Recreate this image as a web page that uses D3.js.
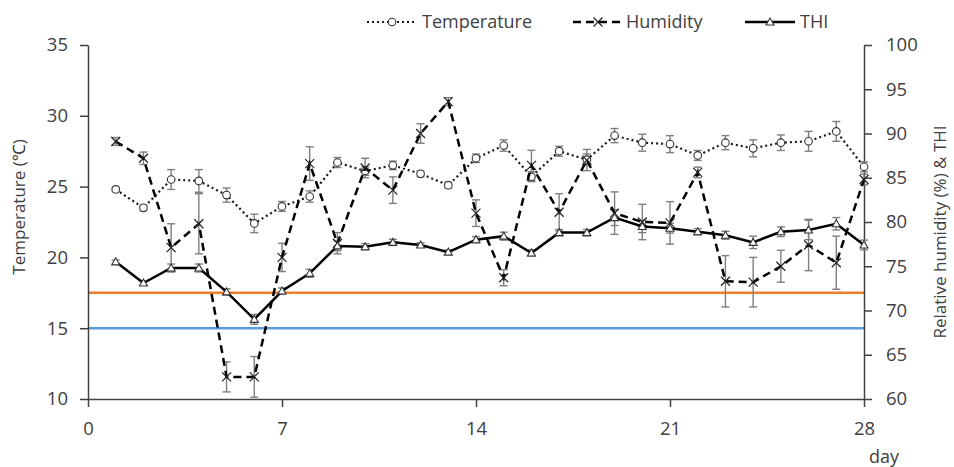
<!DOCTYPE html>
<html>
<head>
<meta charset="utf-8">
<script src="https://cdn.jsdelivr.net/npm/d3@7"></script>
<style>
  body { margin: 0; background: #fff; }
  text { font-family: "Open Sans", "Noto Sans", sans-serif; fill: #404040; }
</style>
</head>
<body>
<div id="chart"></div>
<script>
const days = d3.range(1, 29);
const temperature = [24.8, 23.5, 25.5, 25.4, 24.4, 22.4, 23.6, 24.3, 26.7, 26.1, 26.5, 25.9, 25.1, 27.0, 27.9, 25.7, 27.5, 26.9, 28.6, 28.1, 28.0, 27.2, 28.1, 27.7, 28.1, 28.2, 28.9, 26.4];
const temperatureErr = [0.15, 0.2, 0.7, 0.8, 0.5, 0.65, 0.35, 0.4, 0.35, 0.3, 0.3, 0.2, 0.2, 0.3, 0.4, 0.35, 0.35, 0.4, 0.5, 0.6, 0.6, 0.35, 0.5, 0.6, 0.55, 0.7, 0.7, 0.35];
const humidity = [89.1, 87.2, 77.1, 79.8, 62.5, 62.5, 76.0, 86.6, 77.6, 86.1, 83.6, 90.0, 93.6, 81.0, 73.7, 86.4, 81.1, 87.0, 81.0, 80.0, 79.9, 85.6, 73.3, 73.2, 75.0, 77.4, 75.4, 84.8];
const humidityErr = [0.45, 0.7, 2.7, 3.4, 1.7, 2.3, 1.6, 1.9, 1.2, 1.1, 1.5, 1.1, 0.45, 1.5, 0.9, 1.7, 2.1, 1.2, 2.4, 2.0, 2.4, 0.6, 2.9, 2.8, 1.8, 2.9, 3.0, 0.6];
const thi = [75.5, 73.1, 74.8, 74.8, 72.1, 69.0, 72.2, 74.2, 77.3, 77.2, 77.7, 77.4, 76.6, 78.0, 78.4, 76.5, 78.8, 78.8, 80.5, 79.5, 79.3, 78.9, 78.5, 77.7, 78.9, 79.1, 79.8, 77.4];
const thiErr = [0.2, 0.2, 0.45, 0.45, 0.35, 0.55, 0.35, 0.45, 0.55, 0.35, 0.35, 0.25, 0.25, 0.35, 0.45, 0.35, 0.35, 0.35, 0.9, 0.7, 0.55, 0.35, 0.45, 0.7, 0.55, 1.1, 0.7, 0.55];
const xTicks = [0, 7, 14, 21, 28];
const leftTicks = [10, 15, 20, 25, 30, 35];
const rightTicks = [60, 65, 70, 75, 80, 85, 90, 95, 100];
const thresholdLines = [{value: 17.5, color: "#ED7D31"}, {value: 15, color: "#5B9BD5"}];

const W = 954, H = 467;
const margin = {top: 45, right: 90, bottom: 68, left: 88};
const width = W - margin.left - margin.right,
      height = H - margin.top - margin.bottom;

const svg = d3.select("#chart").append("svg")
    .attr("width", W).attr("height", H);
const g = svg.append("g").attr("transform", `translate(${margin.left},${margin.top})`);

const x = d3.scaleLinear().domain([0, 28]).range([0, width]);
const yL = d3.scaleLinear().domain([10, 35]).range([height, 0]);
const yR = d3.scaleLinear().domain([60, 100]).range([height, 0]);

// threshold lines
g.selectAll(".thr").data(thresholdLines).enter().append("line")
    .attr("x1", 0).attr("x2", width)
    .attr("y1", d => yL(d.value)).attr("y2", d => yL(d.value))
    .attr("stroke", d => d.color).attr("stroke-width", 2.5);

// axes
function styleAxis(sel) {
    sel.select(".domain").attr("stroke", "#404040").attr("stroke-width", 1.5);
    sel.selectAll(".tick line").attr("stroke", "#404040").attr("stroke-width", 1.5);
    sel.selectAll(".tick text").style("font-size", "18.5px").attr("fill", "#404040");
}
g.append("g").attr("transform", `translate(0,${height})`)
    .call(d3.axisBottom(x).tickValues(xTicks).tickSize(8).tickSizeOuter(0).tickPadding(15))
    .call(styleAxis);
g.append("g")
    .call(d3.axisLeft(yL).tickValues(leftTicks).tickSize(8).tickSizeOuter(0).tickPadding(12))
    .call(styleAxis);
g.append("g").attr("transform", `translate(${width},0)`)
    .call(d3.axisRight(yR).tickValues(rightTicks).tickSize(8).tickSizeOuter(0).tickPadding(14))
    .call(styleAxis);

svg.append("text").attr("transform", "translate(25,207) rotate(-90)")
    .attr("text-anchor", "middle").style("font-size", "17px").text("Temperature (℃)");
svg.append("text").attr("transform", "translate(946,232) rotate(-90)")
    .attr("text-anchor", "middle").style("font-size", "17px").text("Relative humidity (%) & THI");
svg.append("text").attr("x", 884).attr("y", 463).attr("text-anchor", "middle")
    .style("font-size", "18px").text("day");

const series = [
    {name: "Temperature", values: temperature, err: temperatureErr, y: yL, dash: "2,3", color: "#1a1a1a", width: 2.2, marker: "circle"},
    {name: "Humidity", values: humidity, err: humidityErr, y: yR, dash: "8,5", color: "#000", width: 2.5, marker: "cross"},
    {name: "THI", values: thi, err: thiErr, y: yR, dash: null, color: "#000", width: 2.5, marker: "triangle"}
];

function drawMarker(sel, type) {
    if (type === "circle") {
        sel.append("circle").attr("r", 3.8).attr("fill", "#fff").attr("stroke", "#333").attr("stroke-width", 1.1);
    } else if (type === "cross") {
        sel.append("path").attr("d", "M-4.5,-4.5L4.5,4.5M-4.5,4.5L4.5,-4.5").attr("stroke", "#222").attr("stroke-width", 1.2).attr("fill", "none");
    } else {
        sel.append("path").attr("d", "M0,-4L4,3L-4,3Z").attr("fill", "#fff").attr("stroke", "#333").attr("stroke-width", 1.1);
    }
}

// error bars
series.forEach(s => {
    const eg = g.append("g").attr("stroke", "#7f7f7f").attr("stroke-width", 1.4);
    days.forEach((d, i) => {
        const cx = x(d), y1 = s.y(s.values[i] + s.err[i]), y2 = s.y(s.values[i] - s.err[i]);
        eg.append("line").attr("x1", cx).attr("x2", cx).attr("y1", y1).attr("y2", y2);
        eg.append("line").attr("x1", cx - 4).attr("x2", cx + 4).attr("y1", y1).attr("y2", y1);
        eg.append("line").attr("x1", cx - 4).attr("x2", cx + 4).attr("y1", y2).attr("y2", y2);
    });
});

// lines and markers
series.forEach(s => {
    const line = d3.line().x((d, i) => x(days[i])).y(d => s.y(d));
    g.append("path").datum(s.values)
        .attr("d", line).attr("fill", "none")
        .attr("stroke", s.color).attr("stroke-width", s.width)
        .attr("stroke-dasharray", s.dash);
    g.selectAll(null).data(s.values).enter().append("g")
        .attr("transform", (d, i) => `translate(${x(days[i])},${s.y(d)})`)
        .each(function() { drawMarker(d3.select(this), s.marker); });
});

// legend
const legendItems = [
    {s: series[0], x0: 367, tx: 422},
    {s: series[1], x0: 573, tx: 626},
    {s: series[2], x0: 745, tx: 800}
];
const lg = svg.append("g");
legendItems.forEach(it => {
    lg.append("line").attr("x1", it.x0).attr("x2", it.x0 + 50).attr("y1", 22).attr("y2", 22)
        .attr("stroke", it.s.color).attr("stroke-width", it.s.width)
        .attr("stroke-dasharray", it.s.dash);
    const m = lg.append("g").attr("transform", `translate(${it.x0 + 25},22)`);
    drawMarker(m, it.s.marker);
    lg.append("text").attr("x", it.tx).attr("y", 28).style("font-size", "18px").text(it.s.name);
});
</script>
</body>
</html>
